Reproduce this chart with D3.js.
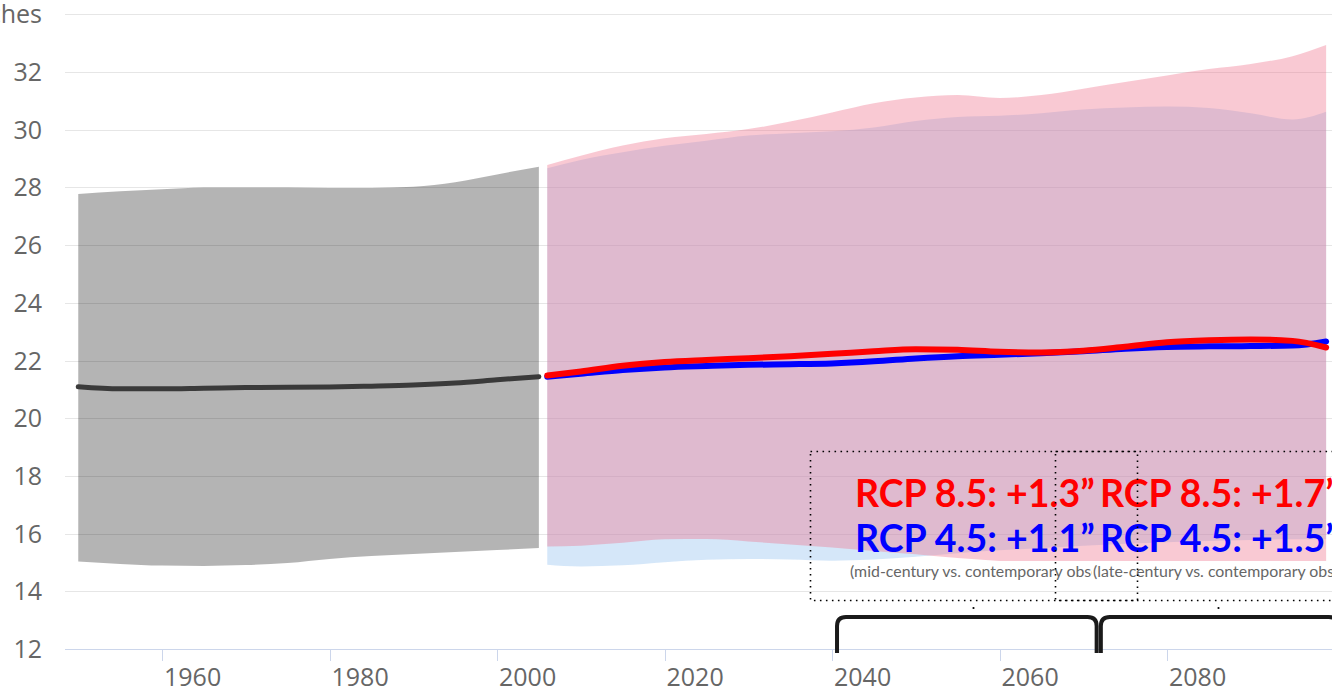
<!DOCTYPE html>
<html>
<head>
<meta charset="utf-8">
<script src="https://cdn.jsdelivr.net/npm/d3@7"></script>
<style>
  html, body { margin: 0; padding: 0; background: #fff; overflow: hidden; }
  svg { display: block; }
</style>
</head>
<body>
<svg id="chart" width="1332" height="689"></svg>
<script>
// ---------------- DATA ----------------
const yTicks = [12, 14, 16, 18, 20, 22, 24, 26, 28, 30, 32, 34];
const yTickLabels = ["12", "14", "16", "18", "20", "22", "24", "26", "28", "30", "32", "Inches"];
const xTicks = [1960, 1980, 2000, 2020, 2040, 2060, 2080];
const xTickLabels = ["1960", "1980", "2000", "2020", "2040", "2060", "2080"];

const histYears = [1950, 1955, 1960, 1965, 1970, 1975, 1980, 1985, 1990, 1995, 2000, 2005];
const histMean  = [21.09, 21.02, 21.02, 21.04, 21.06, 21.07, 21.08, 21.11, 21.15, 21.22, 21.33, 21.44];
const histHigh  = [27.77, 27.87, 27.94, 28.00, 28.00, 28.00, 27.98, 27.98, 28.02, 28.18, 28.45, 28.72];
const histLow   = [15.03, 14.95, 14.89, 14.88, 14.91, 14.98, 15.12, 15.22, 15.29, 15.36, 15.43, 15.50];

const projYears = [2006, 2010, 2015, 2020, 2025, 2030, 2035, 2040, 2045, 2050, 2055, 2060, 2065, 2070, 2075, 2080, 2085, 2090, 2095, 2099];
const rcp85Mean = [21.48, 21.62, 21.82, 21.95, 22.02, 22.08, 22.15, 22.23, 22.32, 22.39, 22.37, 22.30, 22.28, 22.34, 22.48, 22.63, 22.70, 22.73, 22.68, 22.45];
const rcp45Mean = [21.44, 21.54, 21.67, 21.76, 21.81, 21.85, 21.87, 21.90, 21.97, 22.07, 22.15, 22.20, 22.25, 22.32, 22.41, 22.47, 22.49, 22.50, 22.52, 22.66];
const rcp85High = [28.78, 29.10, 29.45, 29.70, 29.85, 30.02, 30.28, 30.60, 30.92, 31.12, 31.20, 31.10, 31.20, 31.42, 31.65, 31.88, 32.10, 32.28, 32.55, 32.94];
const rcp85Low  = [15.55, 15.58, 15.68, 15.80, 15.81, 15.73, 15.62, 15.52, 15.40, 15.28, 15.15, 15.05, 15.00, 14.95, 14.92, 14.90, 14.90, 14.88, 14.85, 14.85];
const rcp45High = [28.66, 28.95, 29.22, 29.44, 29.62, 29.80, 29.88, 29.95, 30.08, 30.30, 30.44, 30.48, 30.57, 30.70, 30.77, 30.80, 30.75, 30.57, 30.35, 30.62];
const rcp45Low  = [14.92, 14.86, 14.90, 15.01, 15.09, 15.12, 15.10, 15.06, 15.10, 15.20, 15.32, 15.42, 15.50, 15.58, 15.65, 15.70, 15.74, 15.78, 15.80, 15.80];

const annotations = [
  { rcp85: "RCP 8.5: +1.3\u201D", rcp45: "RCP 4.5: +1.1\u201D", note: "(mid-century vs. contemporary observed)", from: 2040.6, to: 2071.6 },
  { rcp85: "RCP 8.5: +1.7\u201D", rcp45: "RCP 4.5: +1.5\u201D", note: "(late-century vs. contemporary observed)", from: 2072.1, to: 2100.4 }
];

// ---------------- LAYOUT ----------------
const W = 1332, H = 689;
const plotLeft = 65, plotRight = 1332, plotBottom = 649;
const axisFont = "'Open Sans', Lato, sans-serif";
const svg = d3.select("#chart");

const x = d3.scaleLinear().domain([1960, 2080]).range([162, 1167]);
const y = d3.scaleLinear().domain([12, 32]).range([649, 72]);

const zip = (xs, ...cols) => xs.map((v, i) => ({ x: v, v: cols.map(c => c[i]) }));

svg.append("defs").append("clipPath").attr("id", "plotclip")
  .append("rect").attr("x", plotLeft).attr("y", 0).attr("width", plotRight - plotLeft).attr("height", plotBottom);

// gridlines
svg.append("g").selectAll("line").data(yTicks.filter(t => t !== 12)).join("line")
  .attr("x1", plotLeft).attr("x2", plotRight)
  .attr("y1", d => Math.round(y(d)) + 0.5).attr("y2", d => Math.round(y(d)) + 0.5)
  .attr("stroke", "#e6e6e6").attr("stroke-width", 1);

// x-axis line and ticks
svg.append("line").attr("x1", plotLeft).attr("x2", plotRight)
  .attr("y1", Math.round(y(12)) + 0.5).attr("y2", Math.round(y(12)) + 0.5)
  .attr("stroke", "#ccd6eb").attr("stroke-width", 1);
svg.append("g").selectAll("line").data(xTicks).join("line")
  .attr("x1", d => Math.round(x(d)) + 0.5).attr("x2", d => Math.round(x(d)) + 0.5)
  .attr("y1", y(12)).attr("y2", y(12) + 12)
  .attr("stroke", "#ccd6eb").attr("stroke-width", 1);

// labels
svg.append("g").selectAll("text").data(yTicks).join("text")
  .attr("x", 42).attr("y", d => y(d) + 9)
  .attr("text-anchor", "end")
  .attr("font-family", axisFont).attr("font-size", 25).attr("fill", "#666")
  .text((d, i) => yTickLabels[i]);
svg.append("g").selectAll("text").data(xTicks).join("text")
  .attr("x", d => x(d) + 2).attr("y", 686)
  .attr("text-anchor", "start")
  .attr("font-family", axisFont).attr("font-size", 25).attr("fill", "#666")
  .text((d, i) => xTickLabels[i]);

const plot = svg.append("g").attr("clip-path", "url(#plotclip)");
const curve = d3.curveMonotoneX;
const area = (hiIdx, loIdx) => d3.area().curve(curve).x(d => x(d.x)).y0(d => y(d.v[loIdx])).y1(d => y(d.v[hiIdx]));
const line = (idx) => d3.line().curve(curve).x(d => x(d.x)).y(d => y(d.v[idx]));

const hist = zip(histYears, histMean, histHigh, histLow);
const proj = zip(projYears, rcp85Mean, rcp45Mean, rcp85High, rcp85Low, rcp45High, rcp45Low);

plot.append("path").datum(hist).attr("d", area(1, 2)).attr("fill", "#000").attr("fill-opacity", 0.295);
plot.append("path").datum(proj).attr("d", area(4, 5)).attr("fill", "#7cb5ec").attr("fill-opacity", 0.32);
plot.append("path").datum(proj).attr("d", area(2, 3)).attr("fill", "rgb(239,113,139)").attr("fill-opacity", 0.38);

plot.append("path").datum(hist).attr("d", line(0)).attr("fill", "none")
  .attr("stroke", "#3a3a3a").attr("stroke-width", 5).attr("stroke-linecap", "round");
plot.append("path").datum(proj).attr("d", line(1)).attr("fill", "none")
  .attr("stroke", "#0000ff").attr("stroke-width", 6).attr("stroke-linecap", "round");
plot.append("path").datum(proj).attr("d", line(0)).attr("fill", "none")
  .attr("stroke", "#ff0000").attr("stroke-width", 6).attr("stroke-linecap", "round");

// ---------------- ANNOTATIONS ----------------
const ann = svg.append("g");
const boxW = 327, boxTop = 451, boxBottom = 600;
const boxLefts = [810, 1055];
const textLefts = [855, 1100];
const noteLefts = [849, 1092];

annotations.forEach((a, i) => {
  ann.append("rect").attr("x", noteLefts[i]).attr("y", 561).attr("width", 500).attr("height", 29).attr("fill", "#fff");
  ann.append("text").attr("x", noteLefts[i] + 1).attr("y", 577)
    .attr("font-family", "Lato, sans-serif").attr("font-size", 15.9).attr("fill", "#666").text(a.note);
});
annotations.forEach((a, i) => {
  ann.append("text").attr("x", textLefts[i]).attr("y", 507)
    .attr("font-family", "Lato, sans-serif").attr("font-weight", "bold").attr("font-size", 37.5).attr("fill", "#ff0000").text(a.rcp85);
  ann.append("text").attr("x", textLefts[i]).attr("y", 552)
    .attr("font-family", "Lato, sans-serif").attr("font-weight", "bold").attr("font-size", 37.5).attr("fill", "#0000ff").text(a.rcp45);
});
boxLefts.forEach(bx => {
  ann.append("rect").attr("x", bx + 0.5).attr("y", boxTop + 0.5).attr("width", boxW).attr("height", boxBottom - boxTop)
    .attr("fill", "none").attr("stroke", "#000").attr("stroke-width", 1.6).attr("stroke-dasharray", "1.6 4.4");
  ann.append("circle").attr("cx", bx + boxW / 2).attr("cy", 608).attr("r", 1.1).attr("fill", "#000");
});
// brackets
annotations.forEach(a => {
  const x0 = x(a.from), x1 = x(a.to), yt = 617, yb = 653, r = 9;
  const p = `M${x0},${yb} L${x0},${yt + r} Q${x0},${yt} ${x0 + r},${yt} L${x1 - r},${yt} Q${x1},${yt} ${x1},${yt + r} L${x1},${yb}`;
  ann.append("path").attr("d", p).attr("fill", "none").attr("stroke", "#1a1a1a").attr("stroke-width", 4).attr("stroke-linejoin", "round");
});
</script>
</body>
</html>
